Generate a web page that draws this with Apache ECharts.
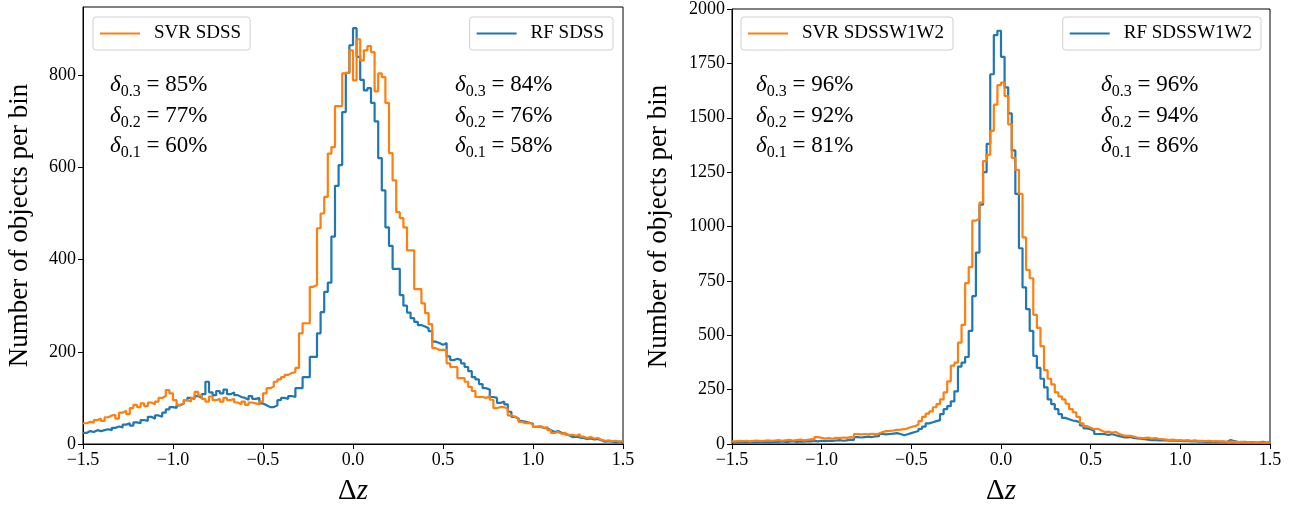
<!DOCTYPE html>
<html>
<head>
<meta charset="utf-8">
<script src="https://cdn.jsdelivr.net/npm/echarts@6/dist/echarts.min.js"></script>
<style>
html,body{margin:0;padding:0;background:#fff;}
#chart{width:1301px;height:512px;}
</style>
</head>
<body>
<div id="chart"></div>
<script>
// ---------------- data ----------------
// histogram bins: 150 bins of width 0.02 starting at -1.5
const binStart = -1.5;
const binWidth = 0.02;

// left panel (SDSS)
const svrSdss = [
  45,48,46,52,55,50,58,62,63,55,
  68,72,65,78,85,80,88,82,90,86,
  92,100,104,117,110,95,85,88,95,92,
  100,113,105,98,92,103,95,98,92,100,
  95,98,90,86,92,85,90,88,86,92,
  110,121,125,135,140,145,150,154,156,165,
  240,262,262,341,345,468,500,536,630,644,
  733,733,804,806,854,789,878,832,854,863,
  850,765,804,796,740,631,572,503,490,470,
  420,420,336,336,305,284,260,208,204,204,
  204,175,167,167,143,143,135,124,115,102,
  102,100,104,96,78,80,80,76,62,59,
  56,48,45,46,42,37,39,35,37,30,
  24,26,22,25,20,20,18,21,16,13,
  15,12,13,9,7,8,6,7,5,6
];
const rfSdss = [
  24,28,26,30,28,30,32,30,35,38,
  36,42,45,40,47,45,52,50,59,55,
  62,59,68,75,80,78,84,88,95,100,
  98,104,100,108,135,112,106,115,110,118,
  108,112,106,102,100,96,104,98,100,88,
  84,80,80,84,95,100,98,104,102,121,
  121,145,145,189,189,240,286,330,350,450,
  560,605,720,805,865,902,840,790,767,772,
  740,700,620,550,470,430,380,380,323,300,
  285,273,265,258,255,251,245,222,219,215,
  219,190,182,185,182,175,167,158,145,140,
  130,121,118,102,100,89,92,86,70,59,
  55,50,48,46,44,37,38,35,34,30,
  26,28,24,22,19,15,16,14,13,11,
  12,10,11,8,5,6,5,4,5,4
];

// right panel (SDSS + W1W2)
const svrW1W2 = [
  12,14,13,15,12,14,16,13,15,17,
  14,16,18,15,17,19,16,18,20,17,
  19,22,20,32,28,25,27,24,28,27,
  30,28,32,30,46,44,46,44,47,45,
  48,55,59,60,62,65,66,68,72,78,
  82,90,105,125,140,150,169,183,205,237,
  288,360,374,466,548,740,813,1027,1036,1110,
  1301,1330,1440,1560,1650,1662,1600,1470,1315,1260,
  1150,950,800,762,594,534,450,340,300,274,
  237,219,205,185,160,146,125,95,82,75,
  68,70,62,55,57,52,55,46,40,37,
  38,34,30,28,27,29,25,27,24,22,
  20,18,20,17,18,16,18,15,17,14,
  15,13,14,12,13,11,12,10,11,10,
  9,10,8,9,8,7,8,7,6,7
];
const rfW1W2 = [
  8,9,7,8,10,8,9,11,8,10,
  9,11,10,12,9,11,13,10,12,11,
  13,12,14,12,15,13,15,14,16,18,
  15,17,20,18,32,30,32,34,32,35,
  36,46,44,46,48,50,46,40,45,50,
  55,60,70,80,95,100,105,110,137,160,
  174,196,242,356,374,400,520,680,880,1100,
  1250,1380,1700,1880,1900,1780,1640,1520,1350,1150,
  900,720,620,520,405,350,300,260,205,183,
  160,137,120,114,108,105,100,85,72,68,
  60,46,46,45,42,46,40,36,32,30,
  32,28,26,24,22,20,18,19,17,18,
  16,15,16,14,15,13,14,12,13,11,
  12,10,11,10,9,11,10,9,18,14,
  10,9,10,8,9,7,8,10,7,8
];

const seriesNames = ['SVR SDSS', 'RF SDSS', 'SVR SDSSW1W2', 'RF SDSSW1W2'];
const statLevels = ['0.3', '0.2', '0.1'];
const statsSvrSdss = ['85%', '77%', '60%'];
const statsRfSdss = ['84%', '76%', '58%'];
const statsSvrW1W2 = ['96%', '92%', '81%'];
const statsRfW1W2 = ['96%', '94%', '86%'];

const xTicks = [-1.5, -1.0, -0.5, 0.0, 0.5, 1.0, 1.5];
const yTicksLeft = [0, 200, 400, 600, 800];
const yTicksRight = [0, 250, 500, 750, 1000, 1250, 1500, 1750, 2000];
const yLabel = 'Number of objects per bin';

// ---------------- rendering ----------------
const FAM = 'Liberation Serif';
const ORANGE = '#ff7f0e';
const BLUE = '#1f77b4';

function stepData(counts) {
  const pts = counts.map((c, i) => [binStart + i * binWidth, c]);
  pts.push([binStart + counts.length * binWidth, counts[counts.length - 1]]);
  return pts;
}

function fmtX(v) {
  return v.toFixed(1).replace('-', '\u2212');
}

function xAxisCfg(gi) {
  return {
    gridIndex: gi, type: 'value', min: -1.5, max: 1.5, interval: 0.5,
    axisLine: { show: true, onZero: false, lineStyle: { color: '#000', width: 1 } },
    axisTick: { show: true, inside: false, length: 5, customValues: xTicks, lineStyle: { color: '#000', width: 1 } },
    axisLabel: { color: '#000', fontFamily: FAM, fontSize: 18, margin: 7, customValues: xTicks, formatter: fmtX },
    splitLine: { show: false },
    name: '{a|Δ}{b|z}',
    nameLocation: 'middle', nameGap: 33,
    nameTextStyle: {
      rich: {
        a: { fontFamily: FAM, fontSize: 29, color: '#000' },
        b: { fontFamily: FAM, fontSize: 29, fontStyle: 'italic', color: '#000' }
      }
    }
  };
}

function yAxisCfg(gi, max, interval, ticks, gap) {
  return {
    gridIndex: gi, type: 'value', min: 0, max: max, interval: interval,
    axisLine: { show: true, onZero: false, lineStyle: { color: '#000', width: 1 } },
    axisTick: { show: true, inside: false, length: 5, customValues: ticks, lineStyle: { color: '#000', width: 1 } },
    axisLabel: { color: '#000', fontFamily: FAM, fontSize: 18, margin: 7, customValues: ticks,
      formatter: v => (ticks.indexOf(v) >= 0 ? String(v) : '') },
    splitLine: { show: false },
    name: yLabel, nameLocation: 'middle', nameGap: gap,
    nameTextStyle: { fontFamily: FAM, fontSize: 27, color: '#000' }
  };
}

function lineSeries(name, counts, color, gi, z) {
  return {
    name: name, type: 'line', xAxisIndex: gi, yAxisIndex: gi,
    step: 'end', data: stepData(counts), showSymbol: false, symbol: 'none',
    color: color, lineStyle: { color: color, width: 2.2 }, z: z, silent: true, clip: true
  };
}

function legendCfg(name, pos) {
  return Object.assign({
    data: [name], top: 17, orient: 'horizontal', icon: 'rect',
    itemWidth: 40, itemHeight: 2, selectedMode: false,
    padding: [7, 9, 7, 7],
    borderColor: '#d0d0d0', borderWidth: 1, borderRadius: 3,
    backgroundColor: 'rgba(255,255,255,0.85)',
    textStyle: { fontFamily: FAM, fontSize: 19, color: '#000', padding: [0, 0, 0, 9] }
  }, pos);
}

const richStat = {
  d: { fontFamily: FAM, fontSize: 23, fontStyle: 'italic', fontWeight: 'normal', lineHeight: 30, verticalAlign: 'middle', color: '#000' },
  s: { fontFamily: FAM, fontSize: 16, fontWeight: 'normal', lineHeight: 20, verticalAlign: 'bottom', color: '#000' },
  t: { fontFamily: FAM, fontSize: 23, fontWeight: 'normal', lineHeight: 30, verticalAlign: 'middle', color: '#000' }
};

// statistics annotations drawn as title components (rich text)
function statTitles(x, values) {
  const tops = [70, 100.5, 131];
  return values.map((v, i) => ({
    text: '{d|δ}{s|' + statLevels[i] + '}{t| = ' + v + '}',
    left: x, top: tops[i], padding: 0, itemGap: 0,
    textStyle: { fontFamily: FAM, fontSize: 23, fontWeight: 'normal', color: '#000', lineHeight: 30, rich: richStat }
  }));
}

const option = {
  animation: false,
  backgroundColor: '#fff',
  textStyle: { fontFamily: FAM },
  grid: [
    { left: 83, right: 678, top: 7, bottom: 68, show: true, borderColor: '#000', borderWidth: 1, backgroundColor: 'transparent' },
    { left: 732, right: 31, top: 7, bottom: 68, show: true, borderColor: '#000', borderWidth: 1, backgroundColor: 'transparent' }
  ],
  xAxis: [xAxisCfg(0), xAxisCfg(1)],
  yAxis: [
    yAxisCfg(0, 948, 200, yTicksLeft, 50),
    yAxisCfg(1, 2000, 250, yTicksRight, 60)
  ],
  legend: [
    legendCfg(seriesNames[0], { left: 93 }),
    legendCfg(seriesNames[1], { right: 688 }),
    legendCfg(seriesNames[2], { left: 741 }),
    legendCfg(seriesNames[3], { right: 40 })
  ],
  title: [].concat(
    statTitles(110, statsSvrSdss),
    statTitles(455, statsRfSdss),
    statTitles(756, statsSvrW1W2),
    statTitles(1101, statsRfW1W2)
  ),
  series: [
    lineSeries(seriesNames[1], rfSdss, BLUE, 0, 2),
    lineSeries(seriesNames[0], svrSdss, ORANGE, 0, 3),
    lineSeries(seriesNames[3], rfW1W2, BLUE, 1, 2),
    lineSeries(seriesNames[2], svrW1W2, ORANGE, 1, 3)
  ]
};

const chart = echarts.init(document.getElementById('chart'), null, { renderer: 'canvas' });
chart.setOption(option);
</script>
</body>
</html>
